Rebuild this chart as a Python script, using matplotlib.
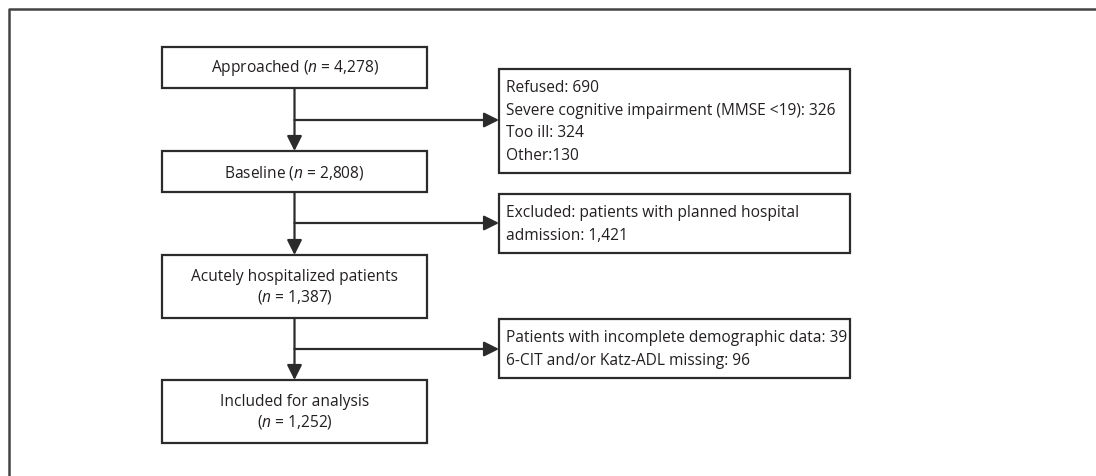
import matplotlib.pyplot as plt
from matplotlib.patches import Rectangle

plt.rcParams["font.family"] = ["Open Sans", "DejaVu Sans"]
plt.rcParams["mathtext.fontset"] = "custom"
plt.rcParams["mathtext.rm"] = "Open Sans"
plt.rcParams["mathtext.it"] = "Open Sans:italic"

# flow steps (main column) and exclusions (right column)
STEP_LABELS = [
    "Approached ($n$ = 4,278)",
    "Baseline ($n$ = 2,808)",
    "Acutely hospitalized patients\n($n$ = 1,387)",
    "Included for analysis\n($n$ = 1,252)",
]
EXCLUSION_LABELS = [
    "Refused: 690\nSevere cognitive impairment (MMSE <19): 326\nToo ill: 324\nOther:130",
    "Excluded: patients with planned hospital\nadmission: 1,421",
    "Patients with incomplete demographic data: 39\n6-CIT and/or Katz-ADL missing: 96",
]

LINE = "#2b2b2b"
TEXT = "#231f20"

# layout in pixels (y grows downwards)
MAIN_X = (162, 427)
MAIN_Y = [(47, 88), (151, 192), (255, 318), (380, 443)]
SIDE_X = (499, 850)
SIDE_Y = [(69, 173), (194, 253), (319, 378)]
ARROW_Y = [120, 223, 349]

fig = plt.figure(figsize=(10.96, 4.76), dpi=100)
ax = fig.add_axes([0, 0, 1, 1])
ax.set_xlim(0, 1096)
ax.set_ylim(476, 0)
ax.axis("off")

# outer frame (only top and left edges visible)
ax.plot([9, 9, 1096], [476, 9, 9], color="#444444", lw=1.8, solid_capstyle="butt")

def box(x0, x1, y0, y1):
    ax.add_patch(Rectangle((x0, y0), x1 - x0, y1 - y0, fill=False,
                           edgecolor=LINE, lw=1.6))

def arrow(x0, y0, x1, y1):
    ax.annotate("", xy=(x1, y1), xytext=(x0, y0),
                arrowprops=dict(arrowstyle="-|>,head_length=0.9,head_width=0.45",
                                color=LINE, lw=1.6, shrinkA=0, shrinkB=0))

FS = 11.2
cx = (MAIN_X[0] + MAIN_X[1]) / 2
for label, (y0, y1) in zip(STEP_LABELS, MAIN_Y):
    box(MAIN_X[0], MAIN_X[1], y0, y1)
    ax.text(cx, (y0 + y1) / 2 + 1, label, ha="center", va="center",
            fontsize=FS, color=TEXT, linespacing=1.27)

for label, (y0, y1) in zip(EXCLUSION_LABELS, SIDE_Y):
    box(SIDE_X[0], SIDE_X[1], y0, y1)
    ax.text(SIDE_X[0] + 7, (y0 + y1) / 2 + 1, label, ha="left", va="center",
            fontsize=FS, color=TEXT, linespacing=1.55)

for i in range(len(MAIN_Y) - 1):
    arrow(cx, MAIN_Y[i][1], cx, MAIN_Y[i + 1][0])
for y in ARROW_Y:
    arrow(cx, y, SIDE_X[0], y)

fig.savefig("out.png", dpi=100)
